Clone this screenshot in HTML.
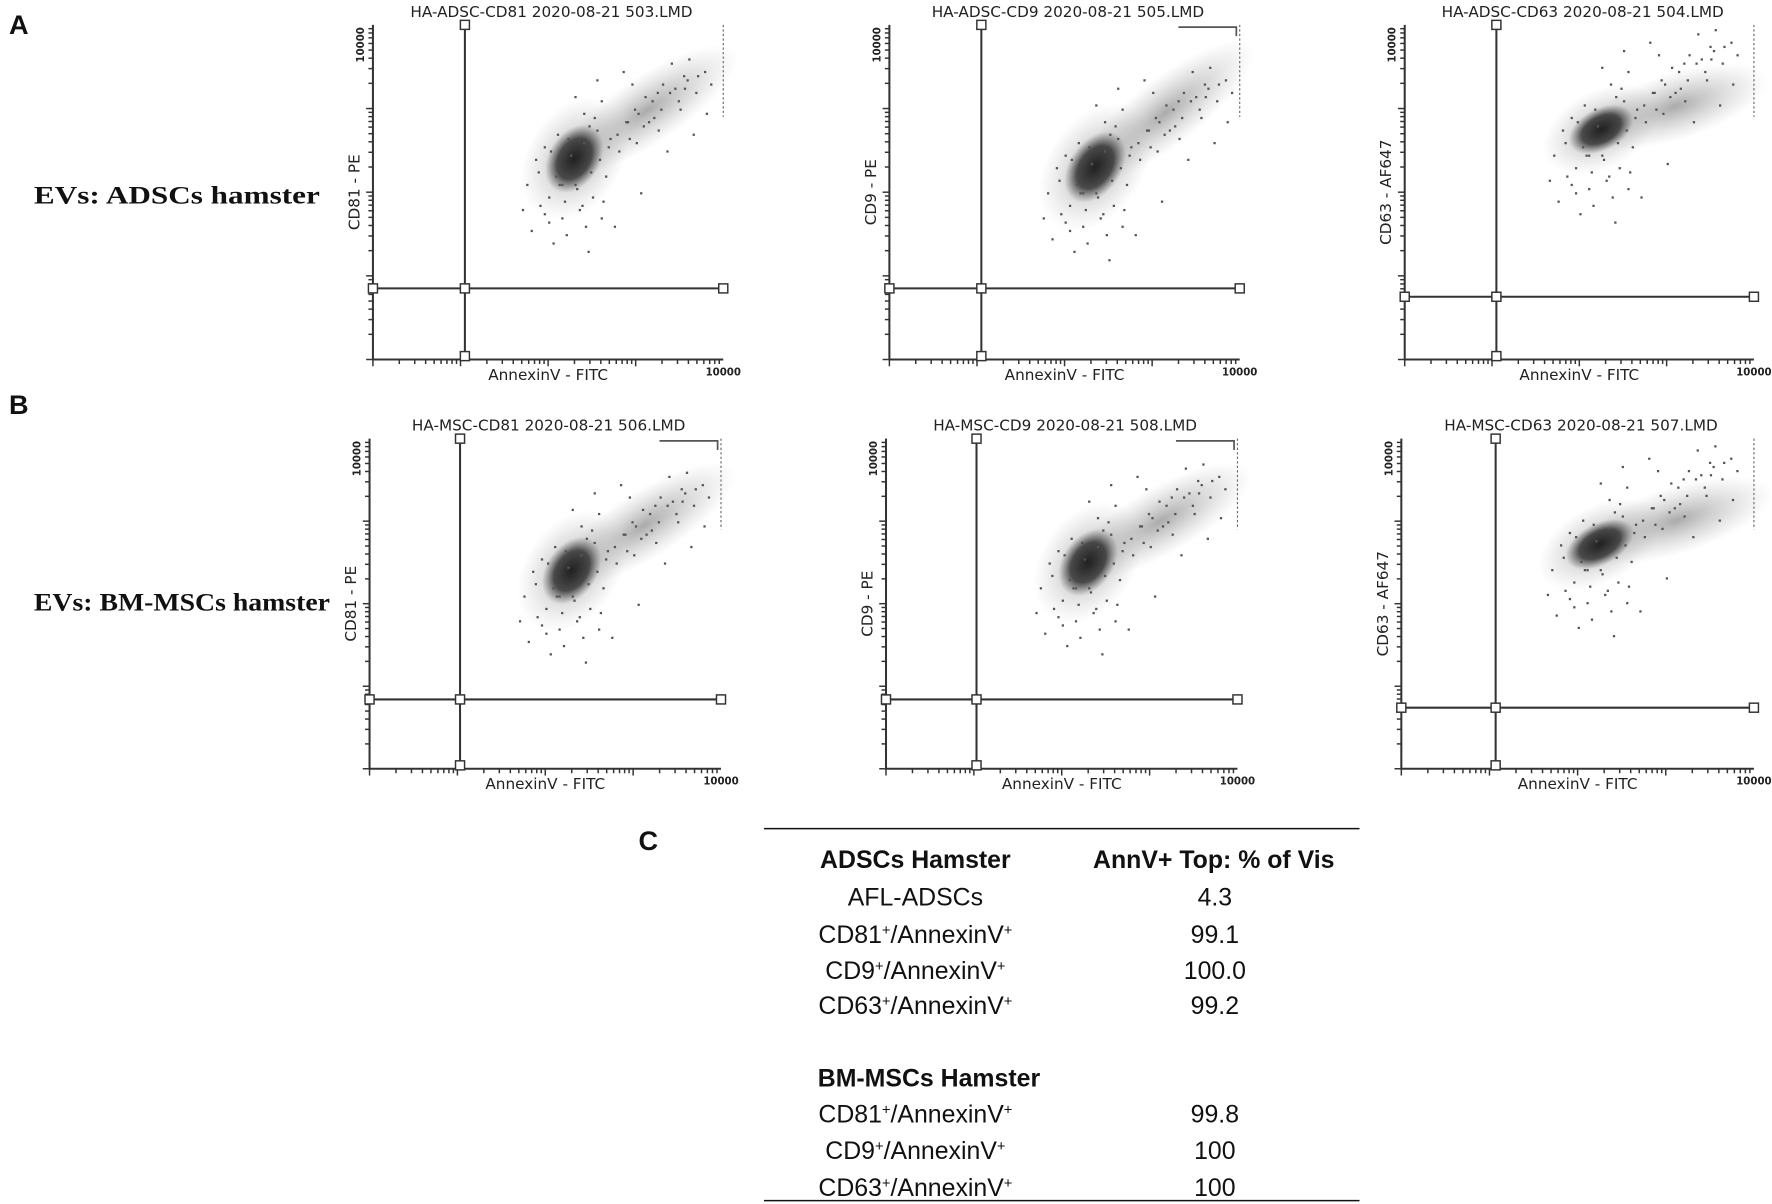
<!DOCTYPE html>
<html><head><meta charset="utf-8"><style>
html,body{margin:0;padding:0;background:#fff;}
svg{display:block;}
.t{font-family:"DejaVu Sans","Liberation Sans",sans-serif;fill:#222;}
.tb{font-family:"Liberation Sans",sans-serif;fill:#111;}
</style></head><body>
<svg id="fig" width="1772" height="1204" viewBox="0 0 1568 1065" preserveAspectRatio="none" xmlns="http://www.w3.org/2000/svg">
<defs>
<radialGradient id="blob"><stop offset="0" stop-color="#1a1a1a" stop-opacity="0.95"/><stop offset="0.6" stop-color="#2a2a2a" stop-opacity="0.8"/><stop offset="1" stop-color="#555" stop-opacity="0"/></radialGradient>
<radialGradient id="halo"><stop offset="0" stop-color="#666" stop-opacity="0.55"/><stop offset="1" stop-color="#999" stop-opacity="0"/></radialGradient>
</defs>
<text x="8" y="30" class="tb" font-size="24" font-weight="bold">A</text>
<text x="8" y="366" class="tb" font-size="24" font-weight="bold">B</text>
<text x="30" y="180" font-family="Liberation Serif,serif" font-weight="bold" font-size="22" textLength="253" lengthAdjust="spacingAndGlyphs" fill="#111">EVs: ADSCs hamster</text>
<text x="30" y="540" font-family="Liberation Serif,serif" font-weight="bold" font-size="22" textLength="262" lengthAdjust="spacingAndGlyphs" fill="#111">EVs: BM-MSCs hamster</text>
<g id="plots"></g>
<g id="table">
<text x="565" y="752" class="tb" font-size="24" font-weight="bold">C</text>
<line x1="676" y1="733" x2="1203" y2="733" stroke="#111" stroke-width="1.3"/>
<line x1="676" y1="1062" x2="1203" y2="1062" stroke="#111" stroke-width="1.3"/>
</g>
</svg>
<script>
// ---- data (log10 decades on each axis, 0..4) ----
const plotTitles = ["HA-ADSC-CD81 2020-08-21 503.LMD","HA-ADSC-CD9 2020-08-21 505.LMD","HA-ADSC-CD63 2020-08-21 504.LMD","HA-MSC-CD81 2020-08-21 506.LMD","HA-MSC-CD9 2020-08-21 508.LMD","HA-MSC-CD63 2020-08-21 507.LMD"];
const yLabels = ["CD81 - PE","CD9 - PE","CD63 - AF647","CD81 - PE","CD9 - PE","CD63 - AF647"];
const gateX = [1.05,1.05,1.05,1.03,1.03,1.07];
const gateY = [0.85,0.85,0.75,0.84,0.84,0.74];
const coreX = [2.3,2.35,2.25,2.3,2.3,2.25];
const coreY = [2.4,2.3,2.75,2.4,2.5,2.72];
const coreRx = [0.42,0.45,0.4,0.42,0.42,0.42];
const coreRy = [0.22,0.22,0.18,0.22,0.22,0.18];
const coreAngle = [-58,-55,-28,-55,-55,-28];
const tailEndX = [3.95,3.95,3.95,3.95,3.95,4.0];
const tailEndY = [3.55,3.6,3.3,3.5,3.5,3.3];
const topBar = [0,1,0,1,1,0];
// hand-placed scatter offsets around core (decades)
const scatterDX = [-0.55,-0.4,-0.3,-0.1,0.05,0.2,0.35,0.5,-0.45,-0.2,0.1,0.3,0.6,0.8,1.0,1.2,1.4,-0.6,-0.25,0.15,0.45,0.7,0.95,1.25,1.5,-0.35,0.0,0.25,0.55,0.9,1.1,1.35,-0.15,0.4,0.75,1.05,-0.5,0.3,0.65,1.3,
 -0.3,-0.22,-0.12,-0.05,0.02,0.1,0.18,0.25,-0.35,-0.28,-0.18,-0.08,0.08,0.16,0.28,0.38,-0.42,-0.15,0.0,0.12,0.22,0.32,0.48,0.58,0.68,0.78,0.88,0.98,1.08,1.18,1.28,1.38,1.48,1.55,0.62,0.72,0.84,0.94,1.14,1.24];
const scatterDY = [-0.3,-0.55,-0.75,-0.9,-0.6,-0.45,-0.2,0.1,0.0,0.3,0.55,0.7,0.45,0.75,0.9,0.6,1.0,-0.6,-1.0,-1.1,-0.8,0.2,0.35,0.85,0.55,0.15,0.75,0.95,1.05,0.5,1.15,0.3,-0.3,0.25,-0.4,0.1,-0.85,-0.7,0.9,1.2,
 -0.45,-0.2,-0.5,0.05,-0.35,0.2,-0.15,0.35,-0.65,0.1,-0.3,0.25,-0.55,0.4,0.0,0.15,-0.15,-0.7,-0.3,-0.8,0.5,-0.5,0.3,0.45,0.6,0.4,0.7,0.6,0.8,0.7,0.95,0.8,1.05,0.9,0.25,0.55,0.45,0.8,0.85,1.0];
// table
const tableHeader = ["ADSCs Hamster","AnnV+ Top: % of Vis"];
const rowLabelsA = ["AFL-ADSCs","CD81|/AnnexinV|","CD9|/AnnexinV|","CD63|/AnnexinV|"];
const rowValuesA = ["4.3","99.1","100.0","99.2"];
const groupB = "BM-MSCs Hamster";
const rowLabelsB = ["CD81|/AnnexinV|","CD9|/AnnexinV|","CD63|/AnnexinV|"];
const rowValuesB = ["99.8","100","100"];

const NS="http://www.w3.org/2000/svg";
const boxes=[[330,22,640,318],[787,22,1097,318],[1243,22,1552,318],[327,388,638,680],[784,388,1095,680],[1240,388,1552,680]];
function mk(tag,attrs,parent){const e=document.createElementNS(NS,tag);for(const k in attrs)e.setAttribute(k,attrs[k]);parent.appendChild(e);return e;}
const root=document.getElementById('plots');
boxes.forEach((b,i)=>{
 const [x0,y0,x1,y1]=b;
 const sx=v=>x0+(x1-x0)*v/4, sy=v=>y1-(y1-y0)*v/4;
 const g=mk('g',{},root);
 
 
 const tt=mk('text',{x:(x0+x1)/2+3,y:y0-7,'text-anchor':'middle','font-size':13.5,class:'t'},g);tt.textContent=plotTitles[i];
 
 
 const ax=mk('path',{d:`M${x0} ${y0} L${x0} ${y1} L${x1} ${y1}`,stroke:'#333','stroke-width':1.8,fill:'none'},g);
 
 
 for(let d=0;d<4;d++)for(let k=1;k<=9;k++){const v=d+Math.log10(k);const L=k==1?6:4;
  mk('line',{x1:sx(v),y1:y1,x2:sx(v),y2:y1+L,stroke:'#333','stroke-width':1.3},g);
  mk('line',{x1:x0,y1:sy(v),x2:x0-L,y2:sy(v),stroke:'#333','stroke-width':1.3},g);}
 const xl=mk('text',{x:(x0+x1)/2,y:y1+18,'text-anchor':'middle','font-size':13.5,class:'t'},g);xl.textContent='AnnexinV - FITC';
 
 
 const xt=mk('text',{x:x1,y:y1+14,'text-anchor':'middle','font-size':9,'font-weight':'bold',class:'t'},g);xt.textContent='10000';
 
 
 const yl=mk('text',{transform:`translate(${x0-12},${(y0+y1)/2}) rotate(-90)`,'text-anchor':'middle','font-size':13.5,class:'t'},g);yl.textContent=yLabels[i];
 
 
 const yt=mk('text',{transform:`translate(${x0-8},${y0+2}) rotate(-90)`,'text-anchor':'end','font-size':9,'font-weight':'bold',class:'t'},g);yt.textContent='10000';
 
 
 mk('line',{x1:x1,y1:y0,x2:x1,y2:sy(2.9),stroke:'#666','stroke-width':1,'stroke-dasharray':'2 2'},g);
 if(topBar[i]) mk('path',{d:`M${sx(3.3)} ${y0+2} L${x1-3} ${y0+2} L${x1-3} ${y0+10}`,stroke:'#555','stroke-width':1.5,fill:'none'},g);
 const cx=sx(coreX[i]),cy=sy(coreY[i]);
 const tx=sx(tailEndX[i]),ty=sy(tailEndY[i]);
 const ddx=tx-cx,ddy=ty-cy,len=Math.hypot(ddx,ddy),ang=Math.atan2(ddy,ddx)*180/Math.PI;
 const tail=mk('ellipse',{cx:(cx+tx)/2,cy:(cy+ty)/2,rx:len*0.62,ry:30,fill:'url(#halo)',transform:`rotate(${ang} ${(cx+tx)/2} ${(cy+ty)/2})`},g);
 
 
 mk('ellipse',{cx:cx,cy:cy,rx:(x1-x0)*coreRx[i]/4*1.8,ry:(y1-y0)*coreRy[i]/4*2.6,fill:'url(#halo)',transform:`rotate(${coreAngle[i]} ${cx} ${cy})`},g);
 const core=mk('ellipse',{cx:cx,cy:cy,rx:(x1-x0)*coreRx[i]/4,ry:(y1-y0)*coreRy[i]/4*1.4,fill:'url(#blob)',transform:`rotate(${coreAngle[i]} ${cx} ${cy})`},g);
 
 
 scatterDX.forEach((dx,j)=>{const vx=coreX[i]+dx,vy=coreY[i]+scatterDY[j];if(vx>4||vy>4)return;
  const p=mk('rect',{x:sx(vx),y:sy(vy),width:2,height:2,fill:'#555'},g);
  
  });
 const gx=sx(gateX[i]),gy=sy(gateY[i]);
 const gl=mk('path',{d:`M${gx} ${y0} L${gx} ${y1} M${x0} ${gy} L${x1} ${gy}`,stroke:'#333','stroke-width':1.8,fill:'none'},g);
 
 
 [[gx,y0],[x0,gy],[gx,gy],[x1,gy],[gx,y1-3]].forEach(([hx,hy])=>{
  const h=mk('rect',{x:hx-4,y:hy-4,width:8,height:8,fill:'#fff',stroke:'#333','stroke-width':1.3},g);
  
  });
});
const T=document.getElementById('table');
function cell(txt,x,y,bold,name){const t=mk('text',{x:x,y:y,'text-anchor':'middle','font-size':22,'font-family':'Liberation Sans,sans-serif',fill:'#111','font-weight':bold?'bold':'normal'},T);
 const parts=txt.split('|');parts.forEach((p,k)=>{if(p){const s=mk('tspan',{},t);s.textContent=p;}if(k<parts.length-1){const sup=mk('tspan',{'font-size':13,'baseline-shift':'super'},t);sup.textContent='+';}});
 
 }
cell(tableHeader[0],810,768,true,'table-header-group');
cell(tableHeader[1],1074,768,true,'table-header-value');
const rowY=[801,834,866,897], rowYB=[993,1025,1058];
rowLabelsA.forEach((l,i)=>{cell(l,810,rowY[i],false,'row-label');cell(rowValuesA[i],1075,rowY[i],false,'row-value');});
cell(groupB,822,961,true,'group-header-bm-mscs');
rowLabelsB.forEach((l,i)=>{cell(l,810,rowYB[i],false,'row-label');cell(rowValuesB[i],1075,rowYB[i],false,'row-value');});
</script>
</body></html>
